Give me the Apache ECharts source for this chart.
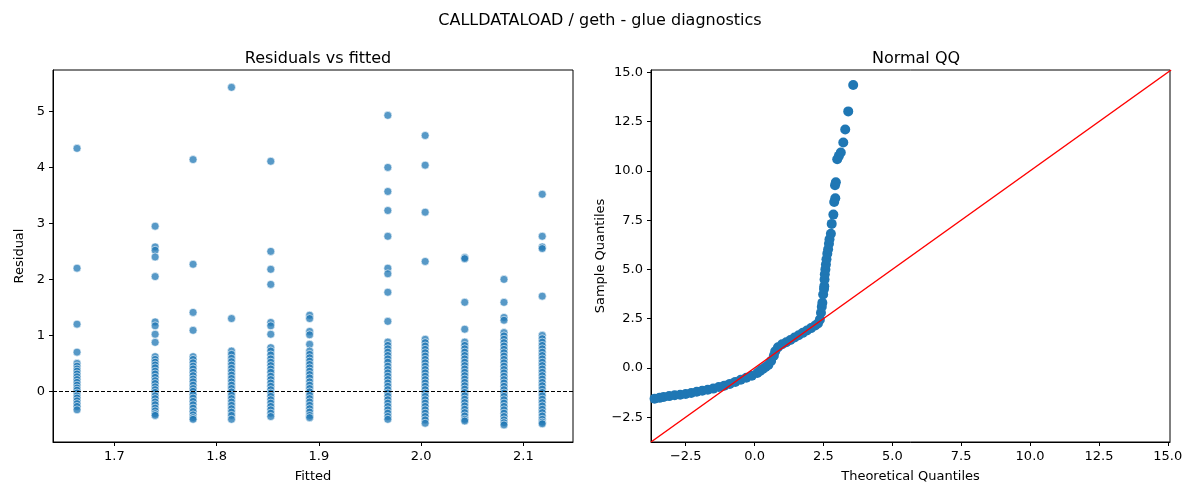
<!DOCTYPE html>
<html>
<head>
<meta charset="utf-8">
<script src="https://cdn.jsdelivr.net/npm/echarts@6/dist/echarts.min.js"></script>
<style>
  html, body { margin: 0; padding: 0; background: #fff; }
  #chart { width: 1200px; height: 500px; }
</style>
</head>
<body>
<div id="chart"></div>
<script>
// residuals per fitted value
const residuals = {
  1.6635: [4.34, 2.20, 1.20, 0.70, 0.50, 0.45, 0.40, 0.36, 0.31, 0.26, 0.21, 0.16, 0.11, 0.06, 0.02, -0.03, -0.08, -0.12, -0.17, -0.22, -0.27, -0.33],
  1.7399: [2.95, 2.58, 2.52, 2.40, 2.05, 1.24, 1.17, 1.02, 0.875, 0.62, 0.57, 0.52, 0.47, 0.42, 0.36, 0.31, 0.25, 0.19, 0.14, 0.08, 0.03, -0.02, -0.08, -0.13, -0.19, -0.24, -0.30, -0.35, -0.40, -0.43],
  1.777:  [4.14, 2.27, 1.41, 1.09, 0.62, 0.57, 0.51, 0.45, 0.40, 0.34, 0.28, 0.22, 0.17, 0.11, 0.05, 0.00, -0.06, -0.12, -0.18, -0.24, -0.30, -0.36, -0.42, -0.47, -0.50],
  1.8146: [5.43, 1.30, 0.72, 0.66, 0.59, 0.53, 0.47, 0.41, 0.35, 0.29, 0.23, 0.17, 0.11, 0.05, -0.01, -0.07, -0.13, -0.19, -0.25, -0.31, -0.37, -0.43, -0.50],
  1.853:  [4.11, 2.50, 2.18, 1.91, 1.23, 1.17, 1.02, 0.78, 0.72, 0.65, 0.58, 0.52, 0.46, 0.40, 0.34, 0.27, 0.21, 0.15, 0.09, 0.03, -0.03, -0.09, -0.15, -0.21, -0.27, -0.33, -0.39, -0.45],
  1.891:  [1.36, 1.30, 1.07, 1.01, 0.84, 0.72, 0.66, 0.60, 0.54, 0.48, 0.42, 0.36, 0.30, 0.24, 0.17, 0.11, 0.05, -0.01, -0.07, -0.13, -0.19, -0.25, -0.31, -0.37, -0.43, -0.47],
  1.9675: [4.93, 4.00, 3.57, 3.23, 2.77, 2.20, 2.10, 1.77, 1.25, 0.88, 0.82, 0.76, 0.70, 0.64, 0.58, 0.52, 0.45, 0.39, 0.33, 0.27, 0.21, 0.15, 0.09, 0.03, -0.03, -0.09, -0.15, -0.21, -0.27, -0.33, -0.39, -0.45, -0.50],
  2.004:  [4.57, 4.04, 3.20, 2.32, 0.93, 0.87, 0.81, 0.75, 0.69, 0.63, 0.57, 0.51, 0.45, 0.39, 0.33, 0.27, 0.21, 0.15, 0.09, 0.03, -0.03, -0.09, -0.15, -0.21, -0.27, -0.33, -0.39, -0.45, -0.51, -0.57],
  2.0427: [2.39, 2.37, 1.59, 1.11, 0.88, 0.82, 0.76, 0.70, 0.64, 0.58, 0.52, 0.46, 0.40, 0.34, 0.28, 0.22, 0.16, 0.10, 0.04, -0.02, -0.08, -0.14, -0.20, -0.26, -0.32, -0.38, -0.44, -0.50, -0.53],
  2.0811: [2.00, 1.59, 1.32, 1.27, 1.05, 0.99, 0.93, 0.87, 0.81, 0.75, 0.69, 0.63, 0.57, 0.51, 0.45, 0.39, 0.33, 0.27, 0.21, 0.15, 0.09, 0.03, -0.03, -0.09, -0.15, -0.21, -0.27, -0.33, -0.39, -0.45, -0.51, -0.56, -0.60],
  2.1185: [3.52, 2.77, 2.58, 2.55, 1.70, 1.00, 0.94, 0.88, 0.82, 0.76, 0.70, 0.64, 0.58, 0.52, 0.46, 0.40, 0.34, 0.28, 0.22, 0.16, 0.10, 0.04, -0.02, -0.08, -0.14, -0.20, -0.26, -0.32, -0.38, -0.44, -0.50, -0.55, -0.58]
};

// [theoretical, sample] quantile pairs
const qq = [
  [-3.63, -1.56], [-3.45, -1.52], [-3.3, -1.47], [-3.1, -1.43], [-2.9, -1.39], [-2.7, -1.36], [-2.5, -1.32],
  [-2.3, -1.27], [-2.1, -1.21], [-1.9, -1.16], [-1.7, -1.11], [-1.5, -1.05], [-1.3, -0.97], [-1.1, -0.90],
  [-0.9, -0.81], [-0.7, -0.71], [-0.5, -0.60], [-0.3, -0.50], [-0.1, -0.40], [0.1, -0.26], [0.2, -0.15],
  [0.3, -0.05], [0.4, 0.05], [0.5, 0.15], [0.6, 0.35], [0.7, 0.62], [0.75, 0.85], [0.85, 1.05], [1.0, 1.20],
  [1.15, 1.30], [1.3, 1.42], [1.45, 1.54], [1.6, 1.66], [1.75, 1.78], [1.9, 1.90], [2.05, 2.02], [2.2, 2.15],
  [2.3, 2.25], [2.37, 2.45], [2.41, 2.80], [2.44, 3.10], [2.46, 3.31], [2.49, 3.73], [2.52, 4.00], [2.53, 4.15],
  [2.54, 4.49], [2.55, 4.75], [2.57, 5.00], [2.59, 5.25], [2.61, 5.51], [2.64, 5.80], [2.67, 6.02], [2.70, 6.30],
  [2.72, 6.53], [2.77, 6.81], [2.80, 7.31], [2.86, 7.78], [2.89, 8.42], [2.93, 8.61], [2.92, 9.27], [2.95, 9.42],
  [3.00, 10.59], [3.06, 10.76], [3.13, 10.93], [3.22, 11.44], [3.29, 12.10], [3.40, 13.02], [3.58, 14.36]
];

const FONT = 'DejaVu Sans';
const axisCommon = {
  axisLine: { onZero: false, lineStyle: { color: '#000', width: 1 } },
  axisTick: { show: true, length: 4, lineStyle: { color: '#000' } },
  axisLabel: { color: '#000', fontSize: 13, fontFamily: FONT, showMinLabel: true, showMaxLabel: true },
  splitLine: { show: false },
  nameTextStyle: { color: '#000', fontSize: 13, fontFamily: FONT },
  nameLocation: 'middle'
};
function ax(extra, ticks) {
  const a = JSON.parse(JSON.stringify(axisCommon));
  a.axisTick.customValues = ticks;
  a.axisLabel.customValues = ticks;
  return Object.assign(a, extra);
}

const scatterData = [];
Object.keys(residuals).forEach(f => {
  residuals[f].forEach(r => scatterData.push([parseFloat(f), r]));
});

const minus = v => v < 0 ? '\u2212' + Math.abs(v).toFixed(1) : v.toFixed(1);
const qTicks = [-2.5, 0, 2.5, 5, 7.5, 10, 12.5, 15];

const chart = echarts.init(document.getElementById('chart'));
chart.setOption({
  animation: false,
  backgroundColor: '#fff',
  title: [
    { text: 'CALLDATALOAD / geth - glue diagnostics', left: 'center', top: 8, textStyle: { fontFamily: FONT, fontSize: 16, fontWeight: 'normal', color: '#000' } },
    { text: 'Residuals vs fitted', left: 313, textAlign: 'center', top: 46, textStyle: { fontFamily: FONT, fontSize: 16, fontWeight: 'normal', color: '#000' } },
    { text: 'Normal QQ', left: 911, textAlign: 'center', top: 46, textStyle: { fontFamily: FONT, fontSize: 16, fontWeight: 'normal', color: '#000' } }
  ],
  grid: [
    { left: 53, right: 627, top: 70, bottom: 58, show: true, borderColor: '#000', borderWidth: 1 },
    { left: 651, right: 30, top: 70, bottom: 58, show: true, borderColor: '#000', borderWidth: 1 }
  ],
  xAxis: [
    ax({ gridIndex: 0, type: 'value', min: 1.640, max: 2.1486, name: 'Fitted', nameGap: 28,
         axisLabel: Object.assign({}, axisCommon.axisLabel, { customValues: [1.7, 1.8, 1.9, 2.0, 2.1], formatter: v => v.toFixed(1) }) },
       [1.7, 1.8, 1.9, 2.0, 2.1]),
    ax({ gridIndex: 1, type: 'value', min: -3.76, max: 15.08, name: 'Theoretical Quantiles', nameGap: 28,
         axisLabel: Object.assign({}, axisCommon.axisLabel, { customValues: qTicks, formatter: minus }) },
       qTicks)
  ],
  yAxis: [
    ax({ gridIndex: 0, type: 'value', min: -0.905, max: 5.74, name: 'Residual', nameGap: 27,
         axisLabel: Object.assign({}, axisCommon.axisLabel, { customValues: [0, 1, 2, 3, 4, 5], formatter: v => String(v) }) },
       [0, 1, 2, 3, 4, 5]),
    ax({ gridIndex: 1, type: 'value', min: -3.76, max: 15.12, name: 'Sample Quantiles', nameGap: 42,
         axisLabel: Object.assign({}, axisCommon.axisLabel, { customValues: qTicks, formatter: minus }) },
       qTicks)
  ],
  series: [
    {
      type: 'scatter', xAxisIndex: 0, yAxisIndex: 0, data: scatterData, symbolSize: 8,
      itemStyle: { color: 'rgba(31,119,180,0.75)', borderColor: '#fff', borderWidth: 0.6, opacity: 1 },
      markLine: {
        silent: true, symbol: 'none', label: { show: false },
        lineStyle: { color: '#000', type: [4, 2], width: 1 },
        data: [{ yAxis: 0 }]
      }
    },
    {
      type: 'scatter', xAxisIndex: 1, yAxisIndex: 1, data: qq, symbolSize: 10,
      itemStyle: { color: '#1f77b4', opacity: 1 }
    },
    {
      type: 'line', xAxisIndex: 1, yAxisIndex: 1, showSymbol: false,
      data: [[-3.76, -3.76], [15.12, 15.12]],
      lineStyle: { color: '#ff0000', width: 1.5 }, z: 3
    }
  ]
});
window.addEventListener('resize', () => chart.resize());
</script>
</body>
</html>
